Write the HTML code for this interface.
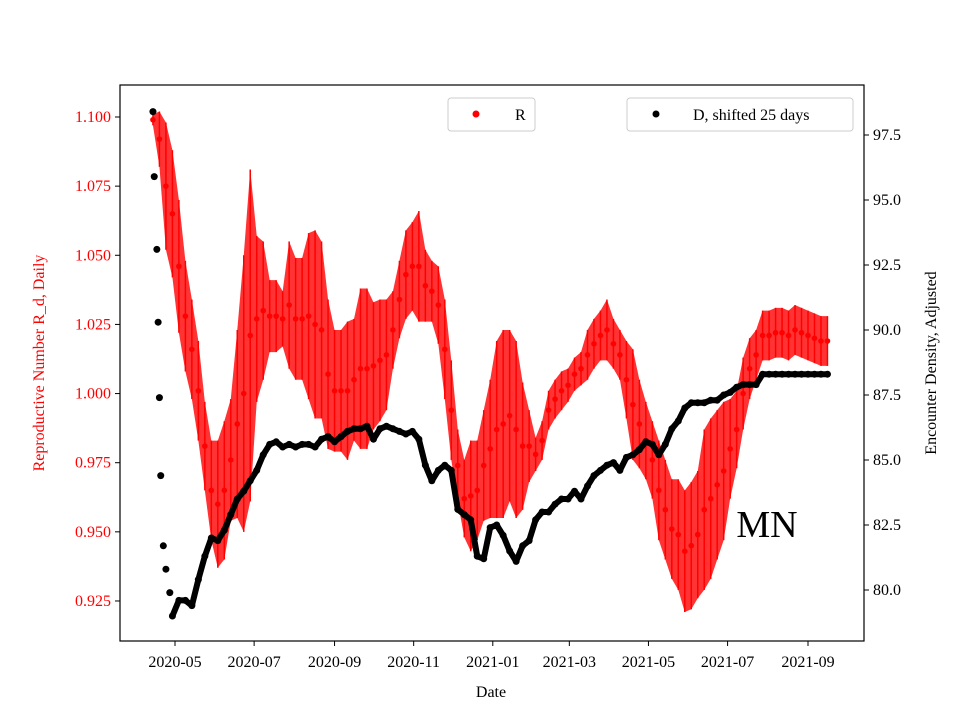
<!DOCTYPE html>
<html><head><meta charset="utf-8"><style>
body{margin:0;background:#fff}
svg text{font-family:"Liberation Serif","DejaVu Serif",serif}
</style></head><body>
<svg id="chart" width="960" height="720" viewBox="0 0 960 720" xmlns="http://www.w3.org/2000/svg">
<rect width="960" height="720" fill="#fff"/>
<g id="redLayer"></g>
<g id="blackLayer"></g>
<rect x="120" y="85" width="744" height="556" fill="none" stroke="#000" stroke-width="1.2"/>
<g id="axes"></g>
<text x="491" y="697" font-size="16" text-anchor="middle">Date</text>
<text transform="translate(44,363) rotate(-90)" font-size="16" fill="#f00" text-anchor="middle">Reproductive Number R_d, Daily</text>
<text transform="translate(936,363) rotate(-90)" font-size="16" text-anchor="middle">Encounter Density, Adjusted</text>
<text x="767" y="537" font-size="38" text-anchor="middle">MN</text>
<g>
<rect x="448" y="98" width="87" height="33" rx="3" fill="#fff" fill-opacity="0.8" stroke="#ccc"/>
<circle cx="476" cy="114" r="3.5" fill="#f00"/>
<text x="515" y="120" font-size="16">R</text>
</g>
<g>
<rect x="627" y="98" width="226" height="33" rx="3" fill="#fff" fill-opacity="0.8" stroke="#ccc"/>
<circle cx="656" cy="114" r="3.5" fill="#000"/>
<text x="693" y="120" font-size="16">D, shifted 25 days</text>
</g>
</svg>
<script>
// R series: 5-day spacing from 2020-04-14
const rValues=[1.099,1.092,1.075,1.065,1.046,1.028,1.016,1.001,0.981,0.965,0.960,0.965,0.976,0.989,1.000,1.021,1.027,1.030,1.028,1.028,1.027,1.032,1.027,1.027,1.028,1.025,1.023,1.007,1.001,1.001,1.001,1.005,1.009,1.009,1.010,1.012,1.014,1.023,1.034,1.043,1.046,1.046,1.039,1.037,1.032,1.016,0.994,0.974,0.962,0.963,0.965,0.974,0.980,0.987,0.989,0.992,0.987,0.981,0.981,0.978,0.983,0.994,0.998,1.001,1.003,1.007,1.009,1.014,1.018,1.021,1.023,1.018,1.014,1.005,0.996,0.989,0.983,0.976,0.965,0.958,0.951,0.949,0.943,0.945,0.949,0.958,0.962,0.967,0.972,0.980,0.987,1.000,1.009,1.014,1.021,1.021,1.022,1.022,1.021,1.023,1.022,1.021,1.020,1.019,1.019];
const rErrors=[0.002,0.010,0.023,0.023,0.024,0.020,0.018,0.018,0.016,0.018,0.023,0.025,0.022,0.034,0.050,0.060,0.030,0.025,0.013,0.013,0.010,0.023,0.022,0.022,0.030,0.034,0.032,0.027,0.022,0.022,0.025,0.022,0.029,0.029,0.023,0.022,0.020,0.014,0.014,0.016,0.016,0.020,0.013,0.011,0.014,0.018,0.018,0.013,0.014,0.020,0.018,0.020,0.025,0.032,0.034,0.031,0.032,0.023,0.013,0.006,0.007,0.007,0.007,0.007,0.006,0.006,0.006,0.009,0.009,0.009,0.011,0.009,0.009,0.014,0.020,0.016,0.014,0.014,0.018,0.018,0.018,0.020,0.022,0.023,0.023,0.029,0.029,0.027,0.025,0.018,0.014,0.013,0.011,0.009,0.009,0.009,0.009,0.009,0.009,0.009,0.009,0.009,0.009,0.009,0.009];
// D series: day offsets from 2020-04-14
const dHeadOffsets=[0,1,3,4,5,6,8,10,13,15];
const dHeadValues=[98.4,95.9,93.1,90.3,87.4,84.4,81.7,80.8,79.9,79.0];
const dValues=[79.6,79.6,79.4,80.4,81.3,82.0,81.9,82.3,82.9,83.5,83.8,84.2,84.6,85.2,85.6,85.7,85.5,85.6,85.5,85.6,85.6,85.5,85.8,85.9,85.7,85.9,86.1,86.2,86.2,86.3,85.8,86.2,86.3,86.2,86.1,86.0,86.1,85.8,84.8,84.2,84.6,84.8,84.6,83.1,82.9,82.7,81.3,81.2,82.4,82.5,82.1,81.5,81.1,81.7,81.9,82.7,83.0,83.0,83.3,83.5,83.5,83.8,83.5,84.0,84.4,84.6,84.8,84.9,84.6,85.1,85.2,85.4,85.7,85.6,85.2,85.6,86.2,86.5,87.0,87.2,87.2,87.2,87.3,87.3,87.5,87.6,87.8,87.9,87.9,87.9,88.3,88.3,88.3,88.3,88.3,88.3,88.3,88.3,88.3,88.3,88.3];
const xTickLabels=["2020-05","2020-07","2020-09","2020-11","2021-01","2021-03","2021-05","2021-07","2021-09"];
const leftTicks=[0.925,0.950,0.975,1.000,1.025,1.050,1.075,1.100];
const rightTicks=[80.0,82.5,85.0,87.5,90.0,92.5,95.0,97.5];

const NS="http://www.w3.org/2000/svg";
const base=Date.UTC(2020,4,1);
const startOff=(Date.UTC(2020,3,14)-base)/864e5;
function xDay(d){return 175+d*(633/488);}
function yL(v){return 117+(1.1-v)/0.025*69.14;}
function yR(v){return 135+(97.5-v)*26;}
function mk(tag,attrs,parent){const e=document.createElementNS(NS,tag);for(const k in attrs)e.setAttribute(k,attrs[k]);parent.appendChild(e);return e;}
const axes=document.getElementById('axes');
xTickLabels.forEach(s=>{
  const [y,m]=s.split('-').map(Number);
  const x=xDay((Date.UTC(y,m-1,1)-base)/864e5);
  const t=mk('line',{x1:x,x2:x,y1:641,y2:646,stroke:'#000'},axes);
  
  
  const l=mk('text',{x:x,y:667,'font-size':16,'text-anchor':'middle'},axes);l.textContent=s;
  
  
});
leftTicks.forEach(v=>{
  const y=yL(v);
  mk('line',{x1:115,x2:120,y1:y,y2:y,stroke:'#000'},axes);
  const l=mk('text',{x:111,y:y+5,'font-size':16,'text-anchor':'end',fill:'#f00'},axes);l.textContent=v.toFixed(3);
  
  
});
rightTicks.forEach(v=>{
  const y=yR(v);
  mk('line',{x1:864,x2:869,y1:y,y2:y,stroke:'#000'},axes);
  const l=mk('text',{x:873,y:y+5,'font-size':16},axes);l.textContent=v.toFixed(1);
  
  
});
// R
const rl=document.getElementById('redLayer');
let up=[],dn=[];
rValues.forEach((v,i)=>{const x=xDay(startOff+i*5);const e=rErrors[i]||0;up.push(x+','+yL(v+e));dn.unshift(x+','+yL(v-e));});
const band=mk('polygon',{points:up.concat(dn).join(' '),fill:'#f00','fill-opacity':0.8},rl);


rValues.forEach((v,i)=>{
  const x=xDay(startOff+i*5);const e=rErrors[i]||0;
  const b=mk('line',{x1:x,x2:x,y1:yL(v+e),y2:yL(v-e),stroke:'#f00','stroke-width':1.5},rl);
  
  
  const c=mk('circle',{cx:x,cy:yL(v),r:2.8,fill:'#f00'},rl);
  
  
});
// D
const bl=document.getElementById('blackLayer');
const dOff=dHeadOffsets.slice(),dVal=dHeadValues.slice();
dValues.forEach((v,k)=>{dOff.push(20+5*k);dVal.push(v);});
const pts=dVal.map((v,i)=>xDay(startOff+dOff[i])+','+yR(v));
const ln=mk('polyline',{points:pts.slice(9).join(' '),fill:'none',stroke:'#000','stroke-width':6,'stroke-linecap':'round','stroke-linejoin':'round'},bl);


dVal.forEach((v,i)=>{
  const c=mk('circle',{cx:xDay(startOff+dOff[i]),cy:yR(v),r:3.5,fill:'#000'},bl);
  
  
});
</script>
</body></html>
